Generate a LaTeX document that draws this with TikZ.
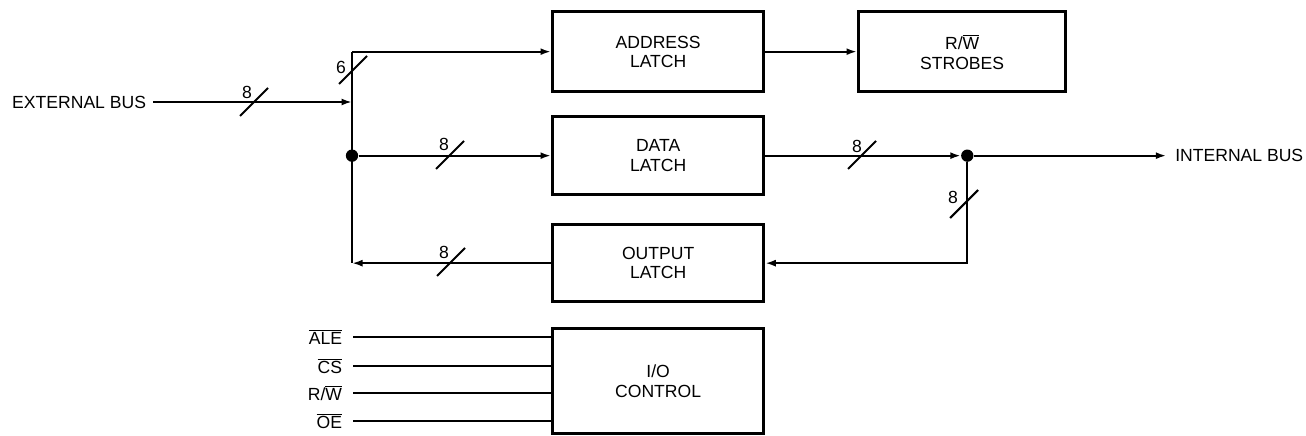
\documentclass[tikz,border=0pt]{standalone}
\usepackage{fontspec}
\setmainfont{Liberation Sans}
\usetikzlibrary{arrows.meta,calc,positioning}
\newcommand{\barsig}[1]{$\overline{\hbox{#1}}$}
\tikzset{
  >={Latex[length=2.1mm,width=1.4mm]},
  every node/.style={font=\fontsize{10}{11}\selectfont},
  latchbox/.style={draw=black, line width=1.9pt, minimum width=4.22cm, minimum height=1.6cm, align=center, inner sep=0pt, anchor=north west},
  busline/.style={draw=black, line width=1.2pt},
  busflow/.style={->, draw=black, line width=1.2pt},
  widthmark/.style={draw=black, line width=1.2pt},
  buslabel/.style={inner sep=0pt},
  joint/.style={circle, fill=black, minimum size=7pt, inner sep=0pt},
  sigtext/.style={anchor=east, inner sep=0pt, outer sep=0.22cm},
  bustext/.style={inner sep=0pt, outer sep=0.14cm},
}

\begin{document}
\begin{tikzpicture}[x=0.02cm,y=-0.02cm]
  \useasboundingbox (0,0) rectangle (1306,436);

  % latch stack
  \node[latchbox] (addr) at (551,10) {ADDRESS\\LATCH};
  \node[latchbox, minimum height=1.56cm] (data) at (551,115) {DATA\\LATCH};
  \node[latchbox, minimum height=1.54cm] (outl) at (551,223) {OUTPUT\\LATCH};
  \node[latchbox, minimum height=2.1cm] (ioctl) at (551,327) {I/O\\CONTROL};
  \node[latchbox, minimum width=4.14cm] (strobe) at (857,10) {R/\barsig{W}\\STROBES};

  % external side
  \node[bustext, anchor=east] (extbus) at (153,102) {EXTERNAL BUS};
  \coordinate (busin) at (352,102);
  \coordinate (bustop) at ($(addr.west)+(-199,0)$);
  \coordinate (busbot) at ($(outl.west)+(-199,0)$);
  \node[joint] (dleft) at ($(data.west)+(-199,0)$) {};
  \draw[busflow] (extbus.east) -- (busin);
  \draw[busline] (bustop) -- (busbot);
  \draw[busflow] (bustop) -- (addr.west);
  \draw[busflow] (dleft) -- (data.west);
  \draw[busflow] (outl.west) -- (busbot);

  % internal side
  \draw[busflow] (addr.east) -- (strobe.west);
  \node[joint] (dright) at ($(data.east)+(202,0)$) {};
  \node[bustext, anchor=west, outer sep=0.18cm] (intbus) at ($(dright)+(199,0)$) {INTERNAL BUS};
  \draw[busflow] (data.east) -- (dright.west);
  \draw[busflow] (dright) -- (intbus.west);
  \draw[busflow] (dright) |- (outl.east);

  % bus widths
  \foreach \cx/\cy/\lx/\ly/\n/\nm in {254/102/247/92/8/wext, 353/70/341/67/6/waddr,
      450/155/444/144/8/wdin, 862/155/857/146/8/wdout, 964/204/953/197/8/wloop, 451/262/444/252/8/wout} {
    \draw[widthmark] (\cx-14,\cy+14) -- (\cx+14,\cy-14);
    \node[buslabel] (\nm) at (\lx,\ly) {\n};
  }

  % control inputs
  \foreach \txt/\yy/\nm in {{\barsig{ALE}}/337/ale, {\barsig{CS}}/366/cs, {R/\barsig{W}}/393/rw, {\barsig{OE}}/421/oe} {
    \node[sigtext] (\nm) at (353,\yy) {\txt};
    \draw[busline] (\nm.east) -- (\nm.east -| ioctl.west);
  }
\end{tikzpicture}
\end{document}
